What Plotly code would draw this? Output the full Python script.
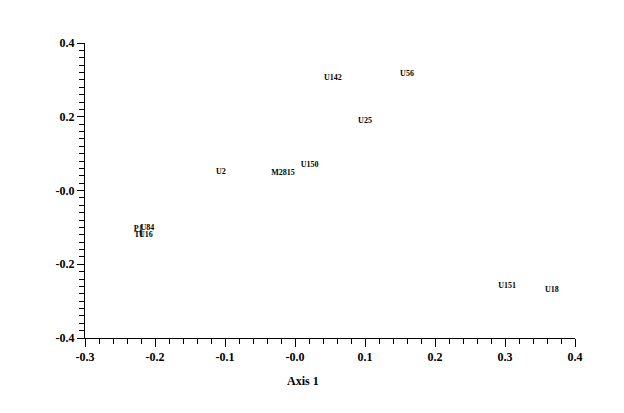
import plotly.graph_objects as go

labels = ["U2", "M2815", "U150", "U142", "U56", "U25", "U151", "U18", "P1", "U84", "T1", "U16"]
axis1 = [-0.106, -0.017, 0.021, 0.054, 0.160, 0.100, 0.303, 0.367, -0.224, -0.211, -0.223, -0.213]
axis2 = [0.050, 0.047, 0.069, 0.305, 0.316, 0.188, -0.259, -0.270, -0.104, -0.102, -0.121, -0.121]

x_tickvals = [-0.3, -0.2, -0.1, 0.0, 0.1, 0.2, 0.3, 0.4]
x_ticktext = ["-0.3", "-0.2", "-0.1", "-0.0", "0.1", "0.2", "0.3", "0.4"]
y_tickvals = [-0.4, -0.2, 0.0, 0.2, 0.4]
y_ticktext = ["-0.4", "-0.2", "-0.0", "0.2", "0.4"]

serif = "Liberation Serif"

fig = go.Figure()
fig.add_trace(go.Scatter(
    x=axis1, y=axis2, mode="text", text=labels,
    textposition="middle center",
    textfont=dict(family=serif, size=8, color="black", weight="bold"),
    showlegend=False, hoverinfo="skip",
))

fig.update_layout(
    width=616, height=405,
    margin=dict(l=77, r=49, t=35, b=75),
    paper_bgcolor="white", plot_bgcolor="white",
    showlegend=False,
    xaxis=dict(
        range=[-0.3, 0.4], showgrid=False, zeroline=False,
        showline=True, linecolor="black", linewidth=1,
        ticks="outside", ticklen=8, tickcolor="black", tickwidth=1,
        tickmode="array", tickvals=x_tickvals, ticktext=x_ticktext,
        tickfont=dict(family=serif, size=12, color="black", weight="bold"),
        minor=dict(dtick=0.02, tick0=0, ticks="outside", ticklen=5, tickcolor="black", showgrid=False),
    ),
    yaxis=dict(
        range=[-0.4, 0.4], showgrid=False, zeroline=False,
        showline=True, linecolor="black", linewidth=1,
        ticks="outside", ticklen=7, tickcolor="black", tickwidth=1,
        tickmode="array", tickvals=y_tickvals, ticktext=y_ticktext,
        tickfont=dict(family=serif, size=12, color="black", weight="bold"),
        minor=dict(dtick=0.02, tick0=0, ticks="outside", ticklen=5, tickcolor="black", showgrid=False),
    ),
    annotations=[dict(
        text="Axis 1", xref="paper", yref="paper", x=0.445, y=-0.146,
        xanchor="center", yanchor="middle", showarrow=False,
        font=dict(family=serif, size=12, color="black", weight="bold"),
    )],
)

fig.write_html("out.html")
